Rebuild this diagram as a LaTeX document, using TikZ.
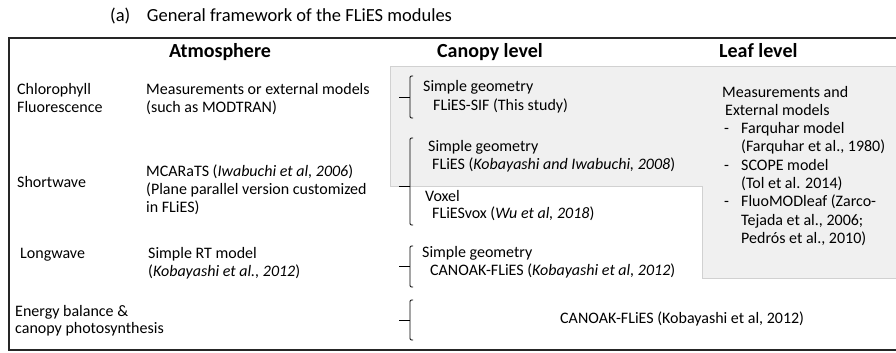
\documentclass[tikz,border=0pt]{standalone}
\usepackage{fontspec}
\setmainfont{Carlito}
\begin{document}
\begin{tikzpicture}[x=1pt,y=-1pt,
  txt/.style={anchor=base west,inner sep=0pt,font=\fontsize{16}{19}\selectfont},
  hdr/.style={anchor=base,inner sep=0pt,font=\fontsize{20}{23}\selectfont\bfseries},
  ttl/.style={anchor=base west,inner sep=0pt,font=\fontsize{18.5}{21}\selectfont},
  brk/.style={line width=0.9pt,rounded corners=1.2pt},
  panel/.style={fill=black!6,draw=black!18,line width=0.6pt},
  frame/.style={line width=2pt,draw=black!85}]
\useasboundingbox (0,0) rectangle (896,353);
\clip (0,0) rectangle (896,353);
\fill[white] (0,0) rectangle (896,353);
% gray panel
\filldraw[panel] (390,66) -- (905,66) -- (905,278) -- (702,278) -- (702,186) -- (390,186) -- cycle;
% frame
\draw[frame] (9,38) rectangle (905,350);
% title
\node[ttl] (title) at (110,22) {(a)\hspace{0.9em}General framework of the FLiES modules};
% headers
\node[hdr] (hAtm) at (220,58) {Atmosphere};
\node[hdr] (hCan) at (490,58) {Canopy level};
\node[hdr,anchor=base west] (hLeaf) at (719,58) {Leaf level};
% row labels
\node[txt] (r1a) at (17,94) {Chlorophyll};
\node[txt] (r1b) at (17,112) {Fluorescence};
\node[txt] (r2) at (17,187) {Shortwave};
\node[txt] (r3) at (20,258) {Longwave};
\node[txt] (r4a) at (15,316) {Energy balance \&};
\node[txt] (r4b) at (15,333) {canopy photosynthesis};
% atmosphere column
\node[txt] (a1a) at (146,94) {Measurements or external models};
\node[txt] (a1b) at (146,112) {(such as MODTRAN)};
\node[txt] (a2a) at (146,176) {MCARaTS (\textit{Iwabuchi et al, 2006})};
\node[txt] (a2b) at (146,194) {(Plane parallel version customized};
\node[txt] (a2c) at (146,212) {in FLiES)};
\node[txt] (a3a) at (148,258) {Simple RT model};
\node[txt] (a3b) at (148,276) {(\textit{Kobayashi et al., 2012})};
% canopy column
\node[txt] (c1a) at (423,92) {Simple geometry};
\node[txt] (c1b) at (433,110) {FLiES-SIF (This study)};
\node[txt] (c2a) at (428,151) {Simple geometry};
\node[txt] (c2b) at (432,169) {FLiES (\textit{Kobayashi and Iwabuchi, 2008})};
\node[txt] (c3a) at (425,201) {Voxel};
\node[txt] (c3b) at (432,218) {FLiESvox (\textit{Wu et al, 2018})};
\node[txt] (c4a) at (422,257) {Simple geometry};
\node[txt] (c4b) at (430,275) {CANOAK-FLiES (\textit{Kobayashi et al, 2012})};
\node[txt] (c5) at (560,323) {CANOAK-FLiES (Kobayashi et al, 2012)};
% leaf column
\node[txt] (l1) at (722,97) {Measurements and};
\node[txt] (l2) at (725,115.3) {External models};
\node[txt] (d1) at (724,133.6) {-};
\node[txt] (l3) at (741,133.6) {Farquhar model};
\node[txt] (l4) at (741,151.9) {(Farquhar et al., 1980)};
\node[txt] (d2) at (724,170.2) {-};
\node[txt] (l5) at (741,170.2) {SCOPE model};
\node[txt] (l6) at (741,188.5) {(Tol et al. 2014)};
\node[txt] (d3) at (724,206.8) {-};
\node[txt] (l7) at (741,206.8) {FluoMODleaf (Zarco-};
\node[txt] (l8) at (741,225.1) {Tejada et al., 2006;};
\node[txt] (l9) at (741,243.4) {Pedrós et al., 2010)};
% brackets
\draw[brk] (413,76) -- (410,76) -- (410,118) -- (413,118);
\draw[brk] (399,97) -- (410,97);
\draw[brk] (413,138) -- (410,138) -- (410,225) -- (413,225);
\draw[brk] (399,186) -- (410,186);
\draw[brk] (413,246) -- (410,246) -- (410,287) -- (413,287);
\draw[brk] (399,266) -- (410,266);
\draw[brk] (413,300) -- (410,300) -- (410,340) -- (413,340);
\draw[brk] (399,320) -- (410,320);
\end{tikzpicture}
\end{document}
